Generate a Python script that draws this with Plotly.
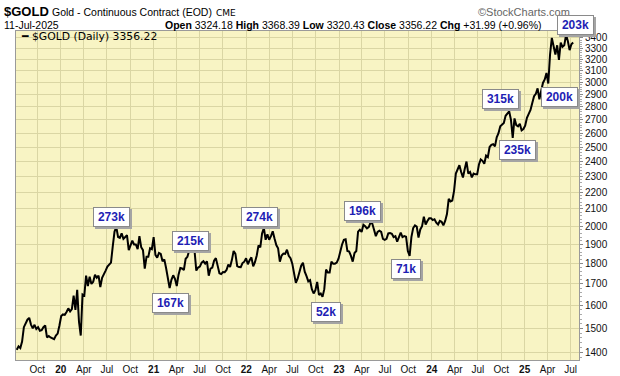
import numpy as np
import pandas as pd
import plotly.graph_objects as go

# ---------------- data ----------------
# Weekly (Friday) closes of $GOLD, 2019-07-12 .. 2025-07-11
close = [
    # 2019 Q3
    1412, 1426, 1419, 1445, 1505, 1520, 1537, 1545, 1516, 1500, 1515, 1497,
    # 2019 Q4
    1505, 1490, 1492, 1505, 1512, 1462, 1468, 1462, 1460, 1455, 1470, 1478, 1512,
    # 2020 Q1
    1553, 1560, 1558, 1571, 1587, 1573, 1584, 1645, 1580, 1672, 1528, 1470, 1650,
    # 2020 Q2
    1645, 1740, 1690, 1735, 1700, 1710, 1745, 1730, 1740, 1685, 1730, 1745, 1765,
    # 2020 Q3
    1785, 1795, 1805, 1890, 1970, 1995, 1940, 1935, 1960, 1930, 1940, 1950, 1870,
    # 2020 Q4
    1895, 1920, 1900, 1900, 1875, 1945, 1885, 1870, 1775, 1835, 1835, 1880, 1875,
    # 2021 Q1
    1940, 1845, 1830, 1855, 1850, 1812, 1822, 1778, 1730, 1680, 1720, 1742, 1725,
    # 2021 Q2
    1690, 1745, 1778, 1776, 1768, 1825, 1835, 1868, 1880, 1875, 1868, 1765, 1780,
    # 2021 Q3
    1785, 1805, 1812, 1800, 1812, 1740, 1775, 1780, 1815, 1828, 1790, 1752, 1748,
    # 2021 Q4
    1758, 1757, 1768, 1795, 1783, 1818, 1865, 1850, 1788, 1783, 1782, 1803, 1810, 1828,
    # 2022 Q1
    1797, 1817, 1832, 1786, 1807, 1842, 1895, 1885, 1960, 1990, 1925, 1955,
    # 2022 Q2
    1925, 1945, 1972, 1932, 1897, 1880, 1810, 1842, 1852, 1850, 1872, 1840, 1828,
    # 2022 Q3
    1800, 1742, 1705, 1725, 1765, 1790, 1805, 1760, 1738, 1712, 1718, 1675, 1655, 1670,
    # 2022 Q4
    1710, 1648, 1655, 1640, 1675, 1770, 1755, 1755, 1810, 1800, 1800, 1805, 1825,
    # 2023 Q1
    1865, 1900, 1925, 1928, 1865, 1862, 1840, 1810, 1855, 1865, 1970, 1980, 1968,
    # 2023 Q2
    2008, 2000, 1988, 1995, 2020, 2015, 1980, 1945, 1968, 1975, 1968, 1930, 1925,
    # 2023 Q3
    1930, 1960, 1962, 1958, 1940, 1945, 1915, 1940, 1965, 1940, 1945, 1942, 1865,
    # 2023 Q4
    1840, 1940, 1990, 2005, 1998, 1937, 1982, 2000, 2055, 2010, 2030, 2045, 2045,
    # 2024 Q1
    2035, 2040, 2020, 2010, 2030, 2025, 2005, 2030, 2070, 2160, 2145, 2150, 2210,
    # 2024 Q2
    2320, 2350, 2375, 2330, 2295, 2350, 2400, 2320, 2330, 2295, 2320, 2315, 2315,
    # 2024 Q3
    2380, 2415, 2405, 2385, 2440, 2430, 2500, 2515, 2520, 2505, 2570, 2600, 2650,
    # 2024 Q4
    2665, 2675, 2730, 2750, 2765, 2700, 2565, 2710, 2660, 2650, 2670, 2620, 2630,
    # 2025 Q1
    2655, 2715, 2745, 2775, 2830, 2885, 2905, 2950, 2860, 2915, 2995, 3025, 3080,
    # 2025 Q2
    2990, 3245, 3400, 3310, 3245, 3330, 3195, 3355, 3315, 3330, 3430, 3370, 3285,
    # 2025 Q3
    3340, 3356.22,
]
first_week = "2019-07-12"

# x-axis ticks (quarter starts) and their labels
tick_labels = ["Oct", "20", "Apr", "Jul", "Oct", "21", "Apr", "Jul", "Oct", "22",
               "Apr", "Jul", "Oct", "23", "Apr", "Jul", "Oct", "24", "Apr", "Jul",
               "Oct", "25", "Apr", "Jul"]
year_labels = {"20", "21", "22", "23", "24", "25"}

# y-axis ticks
price_ticks = [1400, 1500, 1600, 1700, 1800, 1900, 2000, 2100, 2200, 2300, 2400,
               2500, 2600, 2700, 2800, 2900, 3000, 3100, 3200, 3300, 3400]

# call-out labels
callout_labels = ["273k", "167k", "215k", "274k", "52k", "196k", "71k",
                  "315k", "235k", "200k", "203k"]

# header texts
symbol = "$GOLD"
title = "Gold - Continuous Contract (EOD)"
exchange = "CME"
date_txt = "11-Jul-2025"
ohlc = [("Open", "3324.18"), ("High", "3368.39"), ("Low", "3320.43"),
        ("Close", "3356.22"), ("Chg", "+31.99 (+0.96%)")]
legend_txt = "$GOLD (Daily) 3356.22"

# ---------------- layout / placement (not data) ----------------
callout_pos = [  # (date, price, extra y-shift px) of each call-out box centre
    ("2020-07-18", 2050, 0), ("2021-03-09", 1613, 0), ("2021-05-26", 1919, 0),
    ("2022-02-23", 2053, 0), ("2022-11-11", 1571, 0), ("2023-04-02", 2085, 0),
    ("2023-09-23", 1775, 0), ("2024-09-28", 2859, 0), ("2024-12-02", 2476, 0),
    ("2025-05-18", 2875, 0), ("2025-07-20", 3440, 9),
]

W, H = 620, 376
L, R, T, B = 16, 41, 31, 16
PW, PH = W - L - R, H - T - B


def px(x, y):
    return (x - L) / PW, (H - B - y) / PH


dates = pd.date_range(first_week, periods=len(close), freq="W-FRI")
tick_dates = pd.date_range("2019-10-01", periods=len(tick_labels), freq="QS")
tick_text = [f"<b>{t}</b>" if t in year_labels else t for t in tick_labels]

BG = "#F8F4C4"
GRID = "#DAD6A4"
BORDER = "#9A9A9A"
FONT = "Arial, 'Liberation Sans', sans-serif"

fig = go.Figure()
fig.add_trace(go.Scatter(x=dates, y=close, mode="lines",
                         line=dict(color="black", width=2),
                         hoverinfo="skip", showlegend=False))

fig.update_layout(
    template="none",
    width=W, height=H, margin=dict(l=L, r=R, t=T, b=B, pad=0, autoexpand=False),
    paper_bgcolor="white", plot_bgcolor=BG,
    font=dict(family=FONT, size=10, color="black"),
    showlegend=False,
)
fig.update_xaxes(
    type="date", range=["2019-07-09", "2025-08-03"], automargin=False,
    tickmode="array", tickvals=tick_dates, ticktext=tick_text,
    showgrid=True, gridcolor=GRID, gridwidth=1,
    showline=True, linecolor=BORDER, linewidth=1, mirror=True,
    ticks="", tickfont=dict(size=10, family=FONT, color="#111"),
    zeroline=False,
)
fig.update_yaxes(
    type="log", side="right", range=[np.log10(1372), np.log10(3467)], automargin=False,
    tickmode="array", tickvals=price_ticks, ticktext=[str(v) for v in price_ticks],
    showgrid=True, gridcolor=GRID, gridwidth=1,
    showline=True, linecolor=BORDER, linewidth=1, mirror=True,
    ticks="outside", ticklen=3, tickcolor="#888",
    minor=dict(tickmode="array", tickvals=list(range(1380, 3460, 20)),
               ticks="outside", ticklen=2, tickcolor="#AAA", showgrid=False),
    tickfont=dict(size=10, family=FONT, color="#111"),
    zeroline=False,
)

ann = []
# header
x, y = px(2, 12)
ann.append(dict(x=x, y=y, text=f"<b>{symbol}</b>", xanchor="left", yanchor="middle",
                font=dict(size=13, family=FONT)))
x, y = px(50, 12)
ann.append(dict(x=x, y=y, text=title, xanchor="left", yanchor="middle",
                font=dict(size=10.5, family=FONT)))
x, y = px(214, 13)
ann.append(dict(x=x, y=y, text=exchange, xanchor="left", yanchor="middle",
                font=dict(size=9, family="'DejaVu Sans', sans-serif")))
x, y = px(572, 12)
ann.append(dict(x=x, y=y, text="©StockCharts.com", xanchor="right", yanchor="middle",
                font=dict(size=11, family=FONT, color="#666")))
x, y = px(2, 25)
ann.append(dict(x=x, y=y, text=date_txt, xanchor="left", yanchor="middle",
                font=dict(size=10.5, family=FONT)))
x, y = px(163, 25)
ann.append(dict(x=x, y=y, text=" ".join(f"<b>{k}</b> {v}" for k, v in ohlc),
                xanchor="left", yanchor="middle", font=dict(size=10.5, family=FONT)))
# legend inside plot
x, y = px(19, 37)
ann.append(dict(x=x, y=y, text=f"<b>━</b> {legend_txt}", xanchor="left", yanchor="middle",
                font=dict(size=10.8, family="'DejaVu Sans', sans-serif")))
for a in ann:
    a.update(xref="paper", yref="paper", showarrow=False)

# call-outs: shadow first (empty box), then labelled box
SHADOW = "#A4A4A4"
for lab, (d, p, ys) in zip(callout_labels, callout_pos):
    w = 6.7 * len(lab) + 4
    common = dict(x=d, y=np.log10(p), xref="x", yref="y", showarrow=False,
                  width=w, height=14, borderpad=2, borderwidth=1,
                  xanchor="center", yanchor="middle")
    ann.append(dict(common, text="&nbsp;", xshift=2, yshift=ys - 2,
                    bgcolor=SHADOW, bordercolor=SHADOW,
                    font=dict(size=12, family=FONT, color=SHADOW)))
    ann.append(dict(common, text=f"<b>{lab}</b>", yshift=ys,
                    bgcolor="white", bordercolor="#8A8A8A",
                    font=dict(size=12, family=FONT, color="#1E1EB4")))

fig.update_layout(annotations=ann)
fig.write_html("out.html", config={"displayModeBar": False},
               post_script="document.body.style.margin='0';document.body.style.padding='0';"
                           "document.body.style.overflow='hidden';")
